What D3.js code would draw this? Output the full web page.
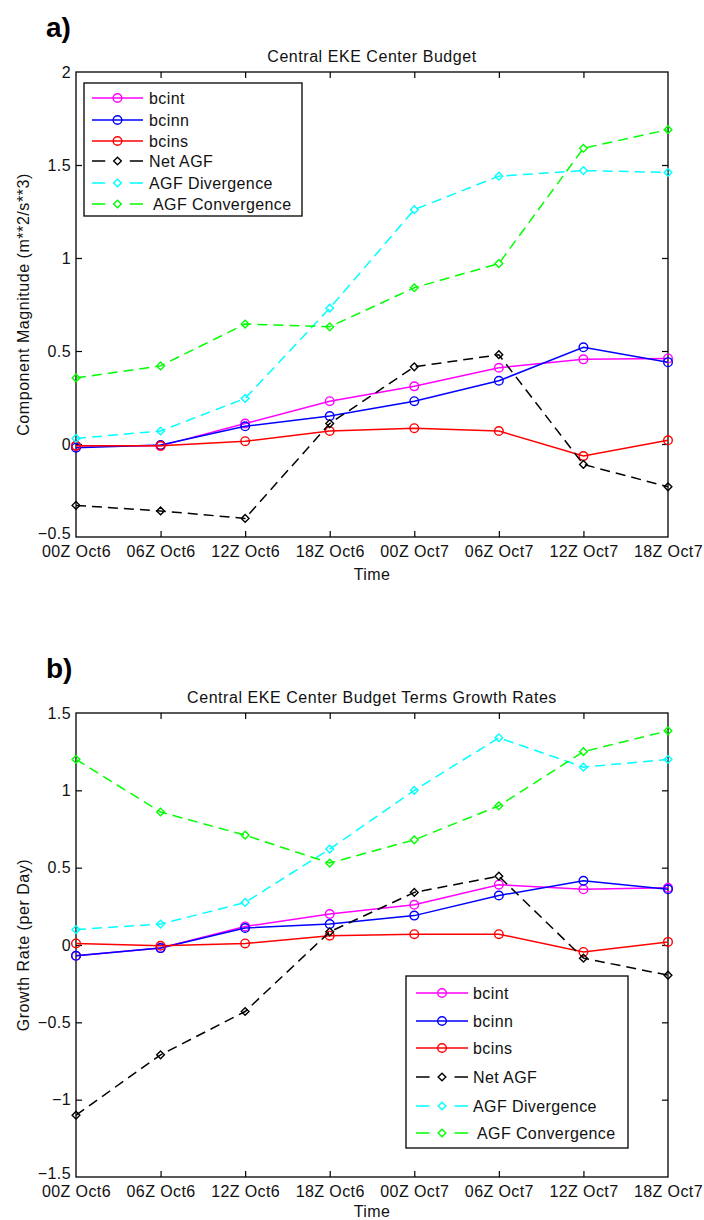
<!DOCTYPE html>
<html>
<head>
<meta charset="utf-8">
<script src="https://cdn.jsdelivr.net/npm/d3@7"></script>
<style>
  html, body { margin: 0; padding: 0; background: #fff; }
  svg text { font-family: "Liberation Sans", Arial, Helvetica, sans-serif; fill: #111; }
</style>
</head>
<body>
<svg id="chart" width="704" height="1220"></svg>
<script>
// ---------- data ----------
const categories = ["00Z Oct6","06Z Oct6","12Z Oct6","18Z Oct6","00Z Oct7","06Z Oct7","12Z Oct7","18Z Oct7"];
const seriesNames = ["bcint","bcinn","bcins","Net AGF","AGF Divergence"," AGF Convergence"];
const seriesColors = ["#ff00ff","#0000ff","#ff0000","#000000","#00ffff","#00ff00"];
const seriesDashed = [false,false,false,true,true,true];

// panel a) Central EKE Center Budget
const aBcint   = [-0.01,-0.01,0.11,0.23,0.31,0.41,0.455,0.46];
const aBcinn   = [-0.02,-0.005,0.095,0.15,0.23,0.34,0.52,0.44];
const aBcins   = [-0.01,-0.01,0.015,0.07,0.085,0.07,-0.065,0.02];
const aNetAgf  = [-0.33,-0.36,-0.40,0.11,0.415,0.48,-0.11,-0.23];
const aDiv     = [0.03,0.07,0.245,0.73,1.26,1.44,1.47,1.46];
const aConv    = [0.355,0.42,0.645,0.63,0.84,0.97,1.59,1.69];
const aTicks   = [-0.5,0,0.5,1,1.5,2];
const aTickLabels = ["\u22120.5","0","0.5","1","1.5","2"];

// panel b) Growth rates
const bBcint   = [-0.07,-0.02,0.12,0.2,0.26,0.39,0.36,0.37];
const bBcinn   = [-0.07,-0.02,0.11,0.135,0.19,0.32,0.415,0.36];
const bBcins   = [0.01,-0.005,0.01,0.06,0.07,0.07,-0.045,0.02];
const bNetAgf  = [-1.1,-0.71,-0.43,0.085,0.34,0.445,-0.085,-0.195];
const bDiv     = [0.1,0.135,0.275,0.62,1.0,1.34,1.15,1.2];
const bConv    = [1.2,0.86,0.71,0.53,0.68,0.9,1.25,1.385];
const bTicks   = [-1.5,-1,-0.5,0,0.5,1,1.5];
const bTickLabels = ["\u22121.5","\u22121","\u22120.5","0","0.5","1","1.5"];

// ---------- drawing ----------
const svg = d3.select("#chart");
svg.append("rect").attr("width",704).attr("height",1220).attr("fill","#fff");

const diamondType = d3.symbolDiamond2 || d3.symbolDiamond;
const diamondSize = d3.symbolDiamond2 ? 38 : 50;

function marker(g, x, y, dashed, color) {
  if (dashed) {
    g.append("path")
      .attr("d", d3.symbol().type(diamondType).size(diamondSize)())
      .attr("transform", `translate(${x},${y})`)
      .attr("fill","none").attr("stroke",color).attr("stroke-width",1.4);
  } else {
    g.append("circle").attr("cx",x).attr("cy",y).attr("r",4.3)
      .attr("fill","none").attr("stroke",color).attr("stroke-width",1.4);
  }
}

function panel(cfg) {
  const {left, right, top, bottom, domain, ticks, tickLabels, series, title, ylabel, letter, legend} = cfg;
  const g = svg.append("g");
  const x = d3.scalePoint().domain(categories).range([left, right]);
  const y = d3.scaleLinear().domain(domain).range([bottom, top]);
  const tl = 6;

  // panel letter
  g.append("text").attr("x", 46).attr("y", top - 35)
    .attr("font-size", 28).attr("font-weight","bold").style("fill","#000").text(letter);

  // title
  g.append("text").attr("x",(left+right)/2).attr("y", top - 10)
    .attr("text-anchor","middle").attr("font-size",16).attr("letter-spacing",0.55).text(title);

  // axes via d3 axis generators (ticks inward)
  const axB = d3.axisBottom(x).tickSizeInner(-tl).tickSizeOuter(0).tickPadding(9);
  const axT = d3.axisTop(x).tickSizeInner(-tl).tickSizeOuter(0).tickFormat("");
  const axL = d3.axisLeft(y).tickValues(ticks).tickSizeInner(-tl).tickSizeOuter(0).tickPadding(5)
                .tickFormat((d,i) => tickLabels[i]);
  const axR = d3.axisRight(y).tickValues(ticks).tickSizeInner(-tl).tickSizeOuter(0).tickFormat("");

  function styleAxis(sel) {
    sel.select(".domain").remove();
    sel.selectAll("line").attr("stroke","#000").attr("stroke-width",1.2);
    sel.selectAll("text").attr("font-size",16).attr("letter-spacing",0.4).style("fill","#111")
      .attr("font-family","'Liberation Sans', Arial, Helvetica, sans-serif");
  }
  const gb = g.append("g").attr("transform",`translate(0,${bottom})`).call(axB).call(styleAxis);
  gb.selectAll(".tick").filter(d => d===categories[0] || d===categories[categories.length-1]).select("line").remove();
  const gt = g.append("g").attr("transform",`translate(0,${top})`).call(axT).call(styleAxis);
  gt.selectAll(".tick").filter(d => d===categories[0] || d===categories[categories.length-1]).select("line").remove();
  const gl = g.append("g").attr("transform",`translate(${left},0)`).call(axL).call(styleAxis);
  gl.selectAll(".tick").filter(d => d===domain[0] || d===domain[1]).select("line").remove();
  gl.selectAll(".tick").filter(d => d===domain[0]).select("text").attr("dy","0.1em");
  const gr = g.append("g").attr("transform",`translate(${right},0)`).call(axR).call(styleAxis);
  gr.selectAll(".tick").filter(d => d===domain[0] || d===domain[1]).select("line").remove();

  // box
  g.append("rect").attr("x",left).attr("y",top).attr("width",right-left).attr("height",bottom-top)
    .attr("fill","none").attr("stroke","#000").attr("stroke-width",1.3);

  // axis labels
  g.append("text").attr("x",(left+right)/2).attr("y",Math.min(bottom+43, 1217)).attr("text-anchor","middle")
    .attr("font-size",16).attr("letter-spacing",0.4).text("Time");
  g.append("text").attr("transform",`translate(29,${(top+bottom)/2}) rotate(-90)`)
    .attr("text-anchor","middle").attr("font-size",16).attr("letter-spacing",0.55).text(ylabel);

  // series
  const line = d3.line().x((d,i)=>x(categories[i])).y(d=>y(d));
  series.forEach((vals, k) => {
    const color = seriesColors[k], dashed = seriesDashed[k];
    g.append("path").datum(vals).attr("d", line).attr("fill","none")
      .attr("stroke", color).attr("stroke-width",1.5)
      .attr("stroke-dasharray", dashed ? "10,6" : null);
    vals.forEach((v,i) => marker(g, x(categories[i]), y(v), dashed, color));
  });

  // legend
  const L = legend;
  const lg = g.append("g");
  lg.append("rect").attr("x",L.x0).attr("y",L.y0).attr("width",L.x1-L.x0).attr("height",L.y1-L.y0)
    .attr("fill","#fff").attr("stroke","#000").attr("stroke-width",1.3);
  seriesNames.forEach((name,k) => {
    const yy = L.rows[k];
    const color = seriesColors[k], dashed = seriesDashed[k];
    const len = L.lineEnd - L.lineStart;
    lg.append("line").attr("x1",L.lineStart).attr("x2",L.lineEnd).attr("y1",yy).attr("y2",yy)
      .attr("stroke",color).attr("stroke-width",1.5)
      .attr("stroke-dasharray", dashed ? `${len*0.26},${len*0.48},${len*0.26}` : null);
    marker(lg, (L.lineStart+L.lineEnd)/2, yy, dashed, color);
    lg.append("text").attr("x",L.textX).attr("y",yy).attr("dy","0.36em")
      .attr("font-size",16).attr("letter-spacing",0.4).attr("xml:space","preserve")
      .style("white-space","pre").text(name);
  });
}

panel({
  left:76, right:668, top:72, bottom:537, domain:[-0.5,2],
  ticks:aTicks, tickLabels:aTickLabels,
  series:[aBcint,aBcinn,aBcins,aNetAgf,aDiv,aConv],
  title:"Central EKE Center Budget",
  ylabel:"Component Magnitude (m**2/s**3)",
  letter:"a)",
  legend:{x0:84,y0:83,x1:302,y1:216,lineStart:92,lineEnd:143,textX:149,rows:[98,120,141,161,183,204]}
});

panel({
  left:76, right:668, top:713, bottom:1177, domain:[-1.5,1.5],
  ticks:bTicks, tickLabels:bTickLabels,
  series:[bBcint,bBcinn,bBcins,bNetAgf,bDiv,bConv],
  title:"Central EKE Center Budget Terms Growth Rates",
  ylabel:"Growth Rate (per Day)",
  letter:"b)",
  legend:{x0:406,y0:976,x1:628,y1:1148,lineStart:416,lineEnd:468,textX:473,rows:[993,1021,1048,1077,1106,1133]}
});
</script>
</body>
</html>
